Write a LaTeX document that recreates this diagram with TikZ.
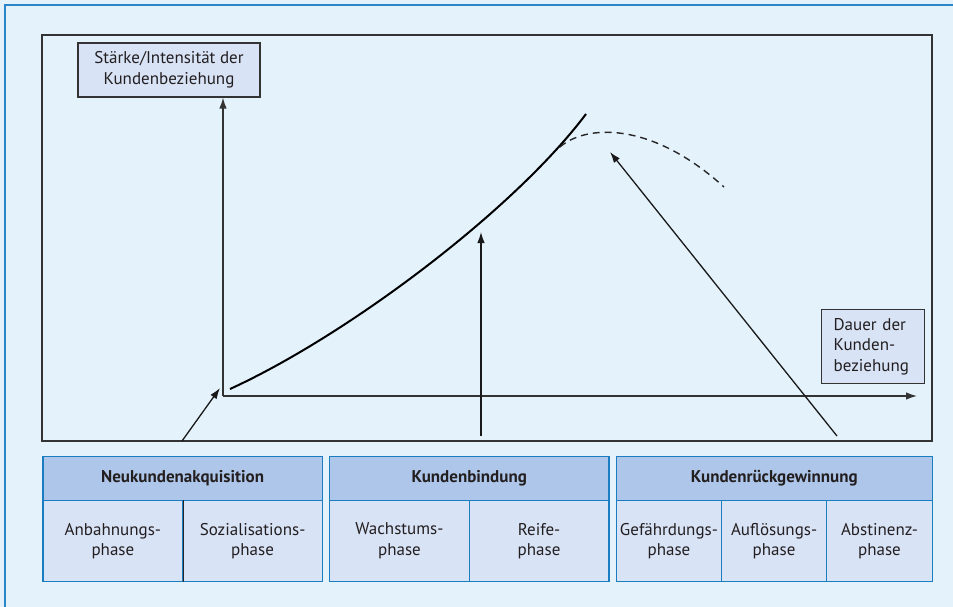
\documentclass[tikz,border=0pt]{standalone}
\usepackage{fontspec}
\setmainfont{PT Sans}
\usetikzlibrary{arrows.meta}
\definecolor{bgblue}{HTML}{E4F2FC}
\definecolor{frameblue}{HTML}{2A86C8}
\definecolor{tblblue}{HTML}{1B7DC1}
\definecolor{hdrfill}{HTML}{ADC6E9}
\definecolor{cellfill}{HTML}{D8E3F6}
\definecolor{darkline}{HTML}{333333}
\definecolor{txt}{HTML}{231F20}
\tikzset{
  txtfont/.style={font=\fontsize{17}{20.5}\selectfont, text=txt},
  hdr/.style={txtfont, font=\fontsize{17}{20.5}\selectfont\bfseries, draw=tblblue, fill=hdrfill, line width=1.2pt, anchor=north west, inner sep=0pt, align=center},
  cell/.style={txtfont, draw=tblblue, fill=cellfill, line width=1.2pt, anchor=north west, inner sep=0pt, align=center, minimum height=80.7pt},
  labelbox/.style={txtfont, draw=darkline, fill=cellfill, line width=1.2pt, inner sep=0pt},
  arr/.style={draw=black!90, line width=1.3pt, -{Latex[length=11pt,width=7.5pt]}},
}
\begin{document}
\begin{tikzpicture}[x=1pt,y=-1pt]
\useasboundingbox (0,0) rectangle (953,607);
\fill[bgblue] (0,0) rectangle (953,607);
\draw[frameblue, line width=1.4pt] (5,607) -- (5,5) -- (953,5);
% inner frame
\draw[darkline, line width=1.4pt] (42,35) rectangle (932,441);
% label boxes
\node[labelbox, minimum width=182pt, minimum height=54pt, align=center] (ybox) at (169,70) {Stärke/Intensität der\\Kundenbeziehung};
\node[labelbox, anchor=north west, minimum height=74pt, text width=79pt, inner xsep=12pt, align=left] (xbox) at (821,309) {Dauer der\\Kunden-\\beziehung};
% axes
\coordinate (o) at (223,396);
\coordinate (xend) at (917,396);
\draw[arr, draw=darkline] (o) -- (o |- ybox.south);
\draw[arr, draw=darkline] (o) -- (xend);
% curve
\draw[black, line width=2pt] (230,389) .. controls (348,335) and (514,210) .. (586,114);
\draw[black!85, line width=1.4pt, dash pattern=on 7pt off 5pt] (560,147) .. controls (585,125) and (650,120) .. (724,187);
% arrows
\coordinate (s1) at (182,441);
\coordinate (t1) at (220,388);
\coordinate (s2) at (481,436);
\coordinate (t2) at (481,232);
\coordinate (s3) at (837,436);
\coordinate (t3) at (610,152);
\draw[arr] (s1) -- (t1);
\draw[arr] (s2) -- (t2);
\draw[arr] (s3) -- (t3);
% table group 1
\node[hdr, minimum width=279.4pt, minimum height=44.3pt] (g1) at (42.3,455.7) {Neukundenakquisition};
\node[cell, minimum width=140pt] (a1) at (42.3,500) {Anbahnungs-\\phase};
\node[cell, minimum width=139.4pt] (a2) at (182.3,500) {Sozialisations-\\phase};
\draw[black!85, line width=1.2pt] (a1.north east) -- (a1.south east);
% group 2
\node[hdr, minimum width=279.3pt, minimum height=44.3pt] (g2) at (329,455.7) {Kundenbindung};
\node[cell, minimum width=139.7pt] (b1) at (329,500) {Wachstums-\\phase};
\node[cell, minimum width=139.6pt] (b2) at (468.7,500) {Reife-\\phase};
% group 3
\node[hdr, minimum width=316pt, minimum height=44.3pt] (g3) at (615.7,455.7) {Kundenrückgewinnung};
\node[cell, minimum width=105.3pt] (c1) at (615.7,500) {Gefährdungs-\\phase};
\node[cell, minimum width=105pt] (c2) at (721,500) {Auflösungs-\\phase};
\node[cell, minimum width=105.7pt] (c3) at (826,500) {Abstinenz-\\phase};
\end{tikzpicture}
\end{document}
